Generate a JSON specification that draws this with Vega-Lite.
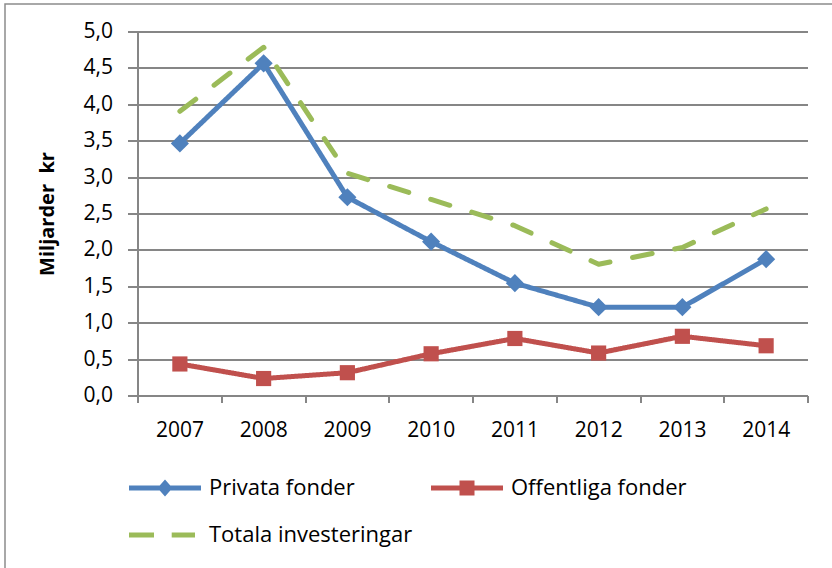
{
  "$schema": "https://vega.github.io/schema/vega-lite/v6.json",
  "width": 827,
  "height": 564,
  "autosize": {"type": "none"},
  "padding": {"left": 5, "top": 4, "right": 0, "bottom": 0},
  "background": "white",
  "config": {
    "font": "Open Sans",
    "view": {"stroke": "#8c8c8c", "strokeWidth": 1.5, "strokeDash": [827, 1391, 564, 10]},
    "axis": {
      "translate": 0,
      "domainColor": "#868686",
      "domainWidth": 2,
      "tickColor": "#868686",
      "tickWidth": 2,
      "gridColor": "#868686",
      "gridWidth": 2,
      "labelFont": "Open Sans",
      "labelFontSize": 21,
      "labelColor": "#000000",
      "titleFont": "Open Sans",
      "titleColor": "#000000"
    }
  },
  "data": {
    "values": [
      {"year": 2007, "series": "Privata fonder", "value": 3.47},
      {"year": 2008, "series": "Privata fonder", "value": 4.57},
      {"year": 2009, "series": "Privata fonder", "value": 2.73},
      {"year": 2010, "series": "Privata fonder", "value": 2.12},
      {"year": 2011, "series": "Privata fonder", "value": 1.55},
      {"year": 2012, "series": "Privata fonder", "value": 1.22},
      {"year": 2013, "series": "Privata fonder", "value": 1.22},
      {"year": 2014, "series": "Privata fonder", "value": 1.88},
      {"year": 2007, "series": "Offentliga fonder", "value": 0.44},
      {"year": 2008, "series": "Offentliga fonder", "value": 0.24},
      {"year": 2009, "series": "Offentliga fonder", "value": 0.32},
      {"year": 2010, "series": "Offentliga fonder", "value": 0.58},
      {"year": 2011, "series": "Offentliga fonder", "value": 0.79},
      {"year": 2012, "series": "Offentliga fonder", "value": 0.59},
      {"year": 2013, "series": "Offentliga fonder", "value": 0.82},
      {"year": 2014, "series": "Offentliga fonder", "value": 0.69},
      {"year": 2007, "series": "Totala investeringar", "value": 3.91},
      {"year": 2008, "series": "Totala investeringar", "value": 4.79},
      {"year": 2009, "series": "Totala investeringar", "value": 3.06},
      {"year": 2010, "series": "Totala investeringar", "value": 2.70},
      {"year": 2011, "series": "Totala investeringar", "value": 2.34},
      {"year": 2012, "series": "Totala investeringar", "value": 1.81},
      {"year": 2013, "series": "Totala investeringar", "value": 2.04},
      {"year": 2014, "series": "Totala investeringar", "value": 2.57}
    ]
  },
  "encoding": {
    "x": {
      "field": "year",
      "type": "quantitative",
      "scale": {"domain": [2006.5, 2014.5], "range": [133, 803], "nice": false, "zero": false},
      "axis": {
        "title": null,
        "orient": "bottom",
        "offset": -172,
        "grid": false,
        "values": [2006.5, 2007.5, 2008.5, 2009.5, 2010.5, 2011.5, 2012.5, 2013.5, 2014.5],
        "labelExpr": "datum.value > 2014 ? '' : format(datum.value + 0.5, 'd')",
        "labelOffset": 41.9,
        "labelOverlap": false,
        "labelFlush": false,
        "labelBound": false,
        "tickSize": 7,
        "labelPadding": 17
      }
    },
    "y": {
      "field": "value",
      "type": "quantitative",
      "scale": {"domain": [0, 5], "range": [392, 28], "nice": false, "zero": true},
      "axis": {
        "title": "Miljarder\u00a0\u00a0kr",
        "titleFontSize": 20,
        "titleFontWeight": "bold",
        "titlePadding": 26,
        "orient": "left",
        "offset": -133,
        "grid": true,
        "values": [0, 0.5, 1, 1.5, 2, 2.5, 3, 3.5, 4, 4.5, 5],
        "labelExpr": "replace(format(datum.value, '.1f'), '.', ',')",
        "tickSize": 10,
        "labelPadding": 15,
        "labelOverlap": false,
        "labelFlush": false
      }
    },
    "color": {
      "field": "series",
      "type": "nominal",
      "scale": {
        "domain": ["Privata fonder", "Offentliga fonder", "Totala investeringar"],
        "range": ["#4F81BD", "#C0504D", "#9BBB59"]
      },
      "legend": {
        "title": null,
        "orient": "none",
        "legendX": 149,
        "legendY": 473,
        "columns": 2,
        "direction": "horizontal",
        "padding": 0,
        "labelFont": "Open Sans",
        "labelFontSize": 22,
        "labelColor": "#000000",
        "labelOffset": 33,
        "labelLimit": 500,
        "symbolSize": 400,
        "columnPadding": 18,
        "rowPadding": 25,
        "encode": {
          "symbols": {
            "update": {
              "shape": {"signal": "datum.value === 'Privata fonder' ? 'M-3.6,-0.25L-0.53,-0.25L0,-0.85L0.53,-0.25L3.6,-0.25L3.6,0.25L0.53,0.25L0,0.85L-0.53,0.25L-3.6,0.25Z' : datum.value === 'Offentliga fonder' ? 'M-3.6,-0.25L-0.75,-0.25L-0.75,-0.75L0.75,-0.75L0.75,-0.25L3.6,-0.25L3.6,0.25L0.75,0.25L0.75,0.75L-0.75,0.75L-0.75,0.25L-3.6,0.25Z' : 'M-3.6,-0.25L-1.1,-0.25L-1.1,0.25L-3.6,0.25Z M0.67,-0.25L3.0,-0.25L3.0,0.25L0.67,0.25Z'"},
              "fill": {"scale": "color", "field": "value"},
              "fillOpacity": {"value": 1},
              "opacity": {"value": 1},
              "stroke": {"value": "transparent"},
              "strokeWidth": {"value": 0},
              "size": {"value": 400}
            }
          }
        }
      }
    }
  },
  "layer": [
    {
      "mark": {"type": "line", "strokeWidth": 5, "strokeCap": "round", "strokeJoin": "round"},
      "encoding": {
        "strokeDash": {
          "field": "series",
          "type": "nominal",
          "scale": {
            "domain": ["Privata fonder", "Offentliga fonder", "Totala investeringar"],
            "range": [[1, 0], [1, 0], [20, 23]]
          },
          "legend": null
        }
      }
    },
    {
      "transform": [{"filter": "datum.series !== 'Totala investeringar'"}],
      "mark": {"type": "point", "filled": true, "opacity": 1, "strokeWidth": 0},
      "encoding": {
        "shape": {
          "field": "series",
          "type": "nominal",
          "scale": {"domain": ["Privata fonder", "Offentliga fonder"], "range": ["diamond", "square"]},
          "legend": null
        },
        "size": {
          "field": "series",
          "type": "nominal",
          "scale": {"domain": ["Privata fonder", "Offentliga fonder"], "range": [330, 230]},
          "legend": null
        }
      }
    }
  ]
}
